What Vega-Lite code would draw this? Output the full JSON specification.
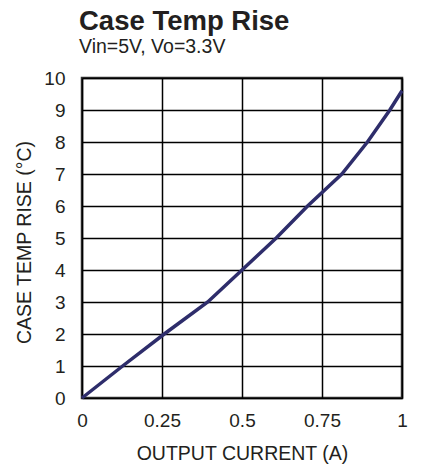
{
  "$schema": "https://vega.github.io/schema/vega-lite/v6.json",
  "autosize": "none",
  "width": 320,
  "height": 320,
  "padding": {"left": 82, "top": 78, "right": 26, "bottom": 74},
  "background": "white",
  "title": {
    "text": "Case Temp Rise",
    "subtitle": "Vin=5V, Vo=3.3V",
    "anchor": "start",
    "frame": "group",
    "font": "Liberation Sans",
    "fontSize": 27.5,
    "fontWeight": "bold",
    "color": "#231f20",
    "subtitleFont": "Liberation Sans",
    "subtitleFontSize": 19.5,
    "subtitleColor": "#231f20",
    "subtitlePadding": 2,
    "offset": 13,
    "dx": -3
  },
  "data": {
    "values": [
      {"current": 0, "rise": 0},
      {"current": 0.127, "rise": 1.0},
      {"current": 0.257, "rise": 2.0},
      {"current": 0.393, "rise": 3.0},
      {"current": 0.5, "rise": 4.0},
      {"current": 0.607, "rise": 5.0},
      {"current": 0.705, "rise": 6.0},
      {"current": 0.812, "rise": 7.0},
      {"current": 0.892, "rise": 8.0},
      {"current": 0.962, "rise": 9.0},
      {"current": 1.0, "rise": 9.6}
    ]
  },
  "config": {
    "view": {"stroke": "#333333", "strokeWidth": 2.5},
    "axis": {
      "labelFont": "Liberation Sans",
      "titleFont": "Liberation Sans",
      "labelFontSize": 19,
      "titleFontSize": 19.5,
      "labelColor": "#231f20",
      "titleColor": "#231f20",
      "titleFontWeight": "normal",
      "domain": false,
      "ticks": false,
      "gridColor": "#000000",
      "gridWidth": 1.5,
      "gridOpacity": 1
    }
  },
  "mark": {"type": "line", "color": "#2e2d6b", "strokeWidth": 3.5},
  "encoding": {
    "x": {
      "field": "current",
      "type": "quantitative",
      "scale": {"domain": [0, 1], "nice": false},
      "axis": {
        "values": [0, 0.25, 0.5, 0.75, 1],
        "labelExpr": "'' + datum.value",
        "title": "OUTPUT CURRENT (A)",
        "labelPadding": 13,
        "labelDx": 3,
        "titlePadding": 14,
        "labelFlush": false
      }
    },
    "y": {
      "field": "rise",
      "type": "quantitative",
      "scale": {"domain": [0, 10], "nice": false},
      "axis": {
        "values": [0, 1, 2, 3, 4, 5, 6, 7, 8, 9, 10],
        "title": "CASE TEMP RISE (°C)",
        "labelPadding": 17,
        "titlePadding": 9,
        "titleY": 164
      }
    }
  }
}
